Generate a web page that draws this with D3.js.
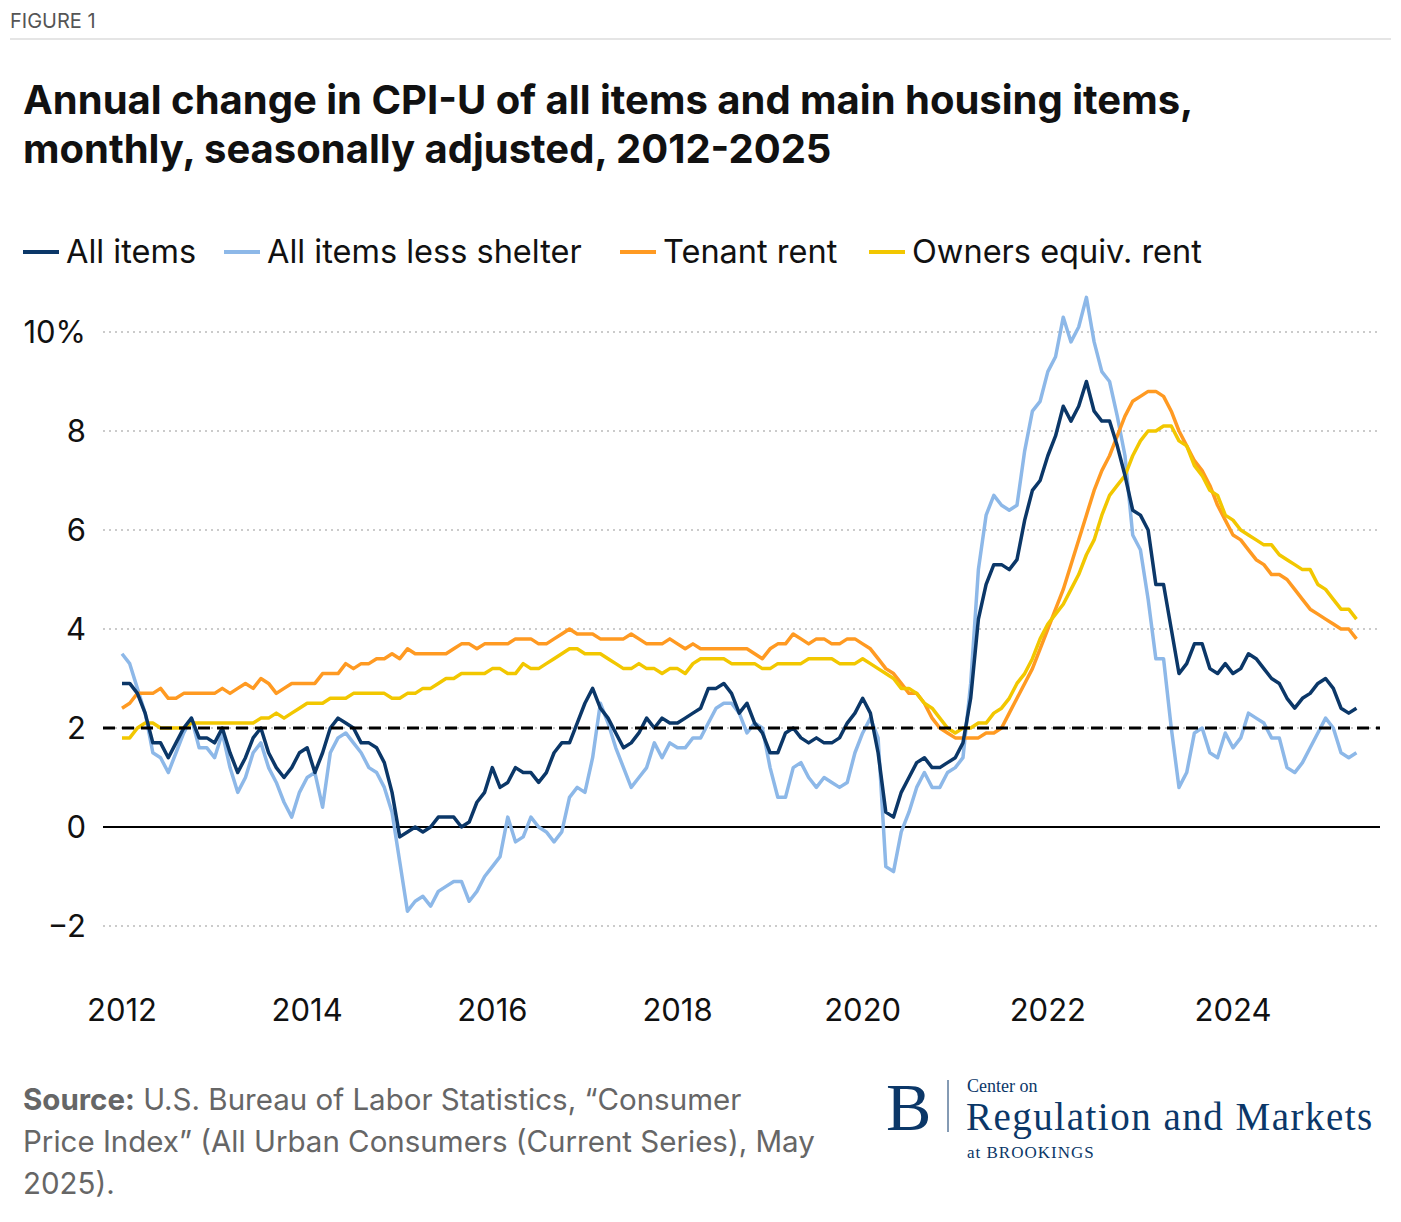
<!DOCTYPE html>
<html><head><meta charset="utf-8">
<script src="https://cdn.jsdelivr.net/npm/d3@7"></script>
<style>body{margin:0;background:#fff;font-family:Inter,"Noto Sans",sans-serif}</style>
</head><body><svg id="chart" width="1401" height="1222"></svg>
<script>
// monthly values, Jan 2012 .. May 2025
const allItems = [
 2.9,2.9,2.7,2.3,1.7,1.7,1.4,1.7,2.0,2.2,1.8,1.8,
 1.7,2.0,1.5,1.1,1.4,1.8,2.0,1.5,1.2,1.0,1.2,1.5,
 1.6,1.1,1.5,2.0,2.2,2.1,2.0,1.7,1.7,1.6,1.3,0.7,
 -0.2,-0.1,0.0,-0.1,0.0,0.2,0.2,0.2,0.0,0.1,0.5,0.7,
 1.2,0.8,0.9,1.2,1.1,1.1,0.9,1.1,1.5,1.7,1.7,2.1,
 2.5,2.8,2.4,2.2,1.9,1.6,1.7,1.9,2.2,2.0,2.2,2.1,
 2.1,2.2,2.3,2.4,2.8,2.8,2.9,2.7,2.3,2.5,2.1,1.9,
 1.5,1.5,1.9,2.0,1.8,1.7,1.8,1.7,1.7,1.8,2.1,2.3,
 2.6,2.3,1.5,0.3,0.2,0.7,1.0,1.3,1.4,1.2,1.2,1.3,
 1.4,1.7,2.6,4.2,4.9,5.3,5.3,5.2,5.4,6.2,6.8,7.0,
 7.5,7.9,8.5,8.2,8.5,9.0,8.4,8.2,8.2,7.7,7.1,6.4,
 6.3,6.0,4.9,4.9,4.0,3.1,3.3,3.7,3.7,3.2,3.1,3.3,
 3.1,3.2,3.5,3.4,3.2,3.0,2.9,2.6,2.4,2.6,2.7,2.9,
 3.0,2.8,2.4,2.3,2.4];
const lessShelter = [
 3.5,3.3,2.8,2.3,1.5,1.4,1.1,1.5,1.9,2.2,1.6,1.6,
 1.4,1.9,1.2,0.7,1.0,1.5,1.7,1.2,0.9,0.5,0.2,0.7,
 1.0,1.1,0.4,1.5,1.8,1.9,1.7,1.5,1.2,1.1,0.8,0.3,
 -0.7,-1.7,-1.5,-1.4,-1.6,-1.3,-1.2,-1.1,-1.1,-1.5,-1.3,-1.0,
 -0.8,-0.6,0.2,-0.3,-0.2,0.2,0.0,-0.1,-0.3,-0.1,0.6,0.8,
 0.7,1.4,2.5,2.1,1.6,1.2,0.8,1.0,1.2,1.7,1.4,1.7,
 1.6,1.6,1.8,1.8,2.1,2.4,2.5,2.5,2.3,1.9,2.1,2.0,
 1.2,0.6,0.6,1.2,1.3,1.0,0.8,1.0,0.9,0.8,0.9,1.5,
 1.9,2.2,1.8,-0.8,-0.9,-0.1,0.3,0.8,1.1,0.8,0.8,1.1,
 1.2,1.4,2.9,5.2,6.3,6.7,6.5,6.4,6.5,7.6,8.4,8.6,
 9.2,9.5,10.3,9.8,10.1,10.7,9.8,9.2,9.0,8.3,7.5,5.9,
 5.6,4.6,3.4,3.4,2.0,0.8,1.1,1.9,2.0,1.5,1.4,1.9,
 1.6,1.8,2.3,2.2,2.1,1.8,1.8,1.2,1.1,1.3,1.6,1.9,
 2.2,2.0,1.5,1.4,1.5];
const tenantRent = [
 2.4,2.5,2.7,2.7,2.7,2.8,2.6,2.6,2.7,2.7,2.7,2.7,
 2.7,2.8,2.7,2.8,2.9,2.8,3.0,2.9,2.7,2.8,2.9,2.9,
 2.9,2.9,3.1,3.1,3.1,3.3,3.2,3.3,3.3,3.4,3.4,3.5,
 3.4,3.6,3.5,3.5,3.5,3.5,3.5,3.6,3.7,3.7,3.6,3.7,
 3.7,3.7,3.7,3.8,3.8,3.8,3.7,3.7,3.8,3.9,4.0,3.9,
 3.9,3.9,3.8,3.8,3.8,3.8,3.9,3.8,3.7,3.7,3.7,3.8,
 3.7,3.6,3.7,3.6,3.6,3.6,3.6,3.6,3.6,3.6,3.5,3.4,
 3.6,3.7,3.7,3.9,3.8,3.7,3.8,3.8,3.7,3.7,3.8,3.8,
 3.7,3.6,3.4,3.2,3.1,2.9,2.7,2.7,2.5,2.2,2.0,1.9,
 1.8,1.8,1.8,1.8,1.9,1.9,2.0,2.3,2.6,2.9,3.2,3.6,
 4.0,4.4,4.8,5.3,5.8,6.3,6.8,7.2,7.5,7.9,8.3,8.6,
 8.7,8.8,8.8,8.7,8.4,8.0,7.7,7.4,7.2,6.9,6.5,6.2,
 5.9,5.8,5.6,5.4,5.3,5.1,5.1,5.0,4.8,4.6,4.4,4.3,
 4.2,4.1,4.0,4.0,3.8];
const ownersRent = [
 1.8,1.8,2.0,2.1,2.1,2.0,2.0,2.0,2.0,2.1,2.1,2.1,
 2.1,2.1,2.1,2.1,2.1,2.1,2.2,2.2,2.3,2.2,2.3,2.4,
 2.5,2.5,2.5,2.6,2.6,2.6,2.7,2.7,2.7,2.7,2.7,2.6,
 2.6,2.7,2.7,2.8,2.8,2.9,3.0,3.0,3.1,3.1,3.1,3.1,
 3.2,3.2,3.1,3.1,3.3,3.2,3.2,3.3,3.4,3.5,3.6,3.6,
 3.5,3.5,3.5,3.4,3.3,3.2,3.2,3.3,3.2,3.2,3.1,3.2,
 3.2,3.1,3.3,3.4,3.4,3.4,3.4,3.3,3.3,3.3,3.3,3.2,
 3.2,3.3,3.3,3.3,3.3,3.4,3.4,3.4,3.4,3.3,3.3,3.3,
 3.4,3.3,3.2,3.1,3.0,2.8,2.8,2.7,2.5,2.4,2.2,2.0,
 1.9,2.0,2.0,2.1,2.1,2.3,2.4,2.6,2.9,3.1,3.4,3.8,
 4.1,4.3,4.5,4.8,5.1,5.5,5.8,6.3,6.7,6.9,7.1,7.5,
 7.8,8.0,8.0,8.1,8.1,7.8,7.7,7.3,7.1,6.8,6.7,6.3,
 6.2,6.0,5.9,5.8,5.7,5.7,5.5,5.4,5.3,5.2,5.2,4.9,
 4.8,4.6,4.4,4.4,4.2];
const seriesNames = ["All items", "All items less shelter", "Tenant rent", "Owners equiv. rent"];
const seriesColors = ["#0b3768", "#8db8e8", "#ff9a22", "#f2c700"];
const yTicks = [-2, 0, 2, 4, 6, 8, 10];
const xTicks = [2012, 2014, 2016, 2018, 2020, 2022, 2024];

const svg = d3.select("#chart");
const x = d3.scaleLinear().domain([2012, 2024]).range([122, 1233]);
const y = d3.scaleLinear().domain([-2, 10]).range([926, 332]);

svg.append("text").attr("x", 10).attr("y", 28).attr("font-size", 20).attr("fill", "#555").text("FIGURE 1");
svg.append("line").attr("x1", 10).attr("x2", 1391).attr("y1", 39).attr("y2", 39).attr("stroke", "#ddd").attr("stroke-width", 1.5);
svg.append("text").attr("x", 23).attr("y", 114).attr("font-size", 40).attr("font-weight", 700).attr("fill", "#111")
  .text("Annual change in CPI-U of all items and main housing items,");
svg.append("text").attr("x", 23).attr("y", 163).attr("font-size", 40).attr("font-weight", 700).attr("fill", "#111")
  .text("monthly, seasonally adjusted, 2012-2025");

// legend
const legX = [23, 224, 620, 869];
seriesNames.forEach((n, i) => {
  svg.append("line").attr("x1", legX[i]).attr("x2", legX[i] + 36).attr("y1", 252).attr("y2", 252)
    .attr("stroke", seriesColors[i]).attr("stroke-width", 4);
  svg.append("text").attr("x", legX[i] + 43).attr("y", 263).attr("font-size", 32.5).attr("fill", "#111").text(n);
});

// grid
yTicks.forEach(t => {
  svg.append("line").attr("x1", 103).attr("x2", 1380).attr("y1", y(t)).attr("y2", y(t))
    .attr("stroke", t === 0 ? "#000" : "#bbb").attr("stroke-width", t === 0 ? 2 : 1.5)
    .attr("stroke-dasharray", t === 0 ? null : "2,4");
  svg.append("text").attr("x", 86).attr("y", y(t) + 11).attr("text-anchor", "end").attr("font-size", 31)
    .attr("fill", "#111").text(t === 10 ? "10%" : (t < 0 ? "\u2212" + (-t) : t));
});
xTicks.forEach(t => {
  svg.append("text").attr("x", x(t)).attr("y", 1021).attr("text-anchor", "middle").attr("font-size", 31)
    .attr("fill", "#111").text(t);
});

const line = d3.line().x((d, i) => x(2012 + i / 12)).y(d => y(d));
[lessShelter, tenantRent, ownersRent, allItems].forEach((s, k) => {
  const ci = [1, 2, 3, 0][k];
  svg.append("path").datum(s).attr("d", line).attr("fill", "none")
    .attr("stroke", seriesColors[ci]).attr("stroke-width", 3.5).attr("stroke-linejoin", "round");
});
svg.append("line").attr("x1", 103).attr("x2", 1380).attr("y1", y(2)).attr("y2", y(2))
  .attr("stroke", "#000").attr("stroke-width", 3).attr("stroke-dasharray", "12,7");

// source
const src = ["Source: U.S. Bureau of Labor Statistics, \u201cConsumer", "Price Index\u201d (All Urban Consumers (Current Series), May", "2025)."];
src.forEach((s, i) => {
  const t = svg.append("text").attr("x", 23).attr("y", 1110 + i * 42).attr("font-size", 29.5).attr("fill", "#666");
  if (i === 0) {
    t.append("tspan").attr("font-weight", 700).text("Source:");
    t.append("tspan").text(s.slice(7));
  } else t.text(s);
});

// logo
const serif = "'Liberation Serif', serif";
svg.append("text").attr("x", 886).attr("y", 1130).attr("font-family", serif).attr("font-size", 68)
  .attr("fill", "#0b3768").text("B");
svg.append("line").attr("x1", 948).attr("x2", 948).attr("y1", 1080).attr("y2", 1132).attr("stroke", "#0b3768").attr("stroke-width", 1);
svg.append("text").attr("x", 967).attr("y", 1092).attr("font-family", serif).attr("font-size", 18).attr("fill", "#0b3768").text("Center on");
svg.append("text").attr("x", 966).attr("y", 1130).attr("font-family", serif).attr("font-size", 39).attr("letter-spacing", 1.5).attr("fill", "#0b3768").text("Regulation and Markets");
svg.append("text").attr("x", 967).attr("y", 1158).attr("font-family", serif).attr("font-size", 17).attr("letter-spacing", 1).attr("fill", "#0b3768").text("at BROOKINGS");
</script></body></html>
